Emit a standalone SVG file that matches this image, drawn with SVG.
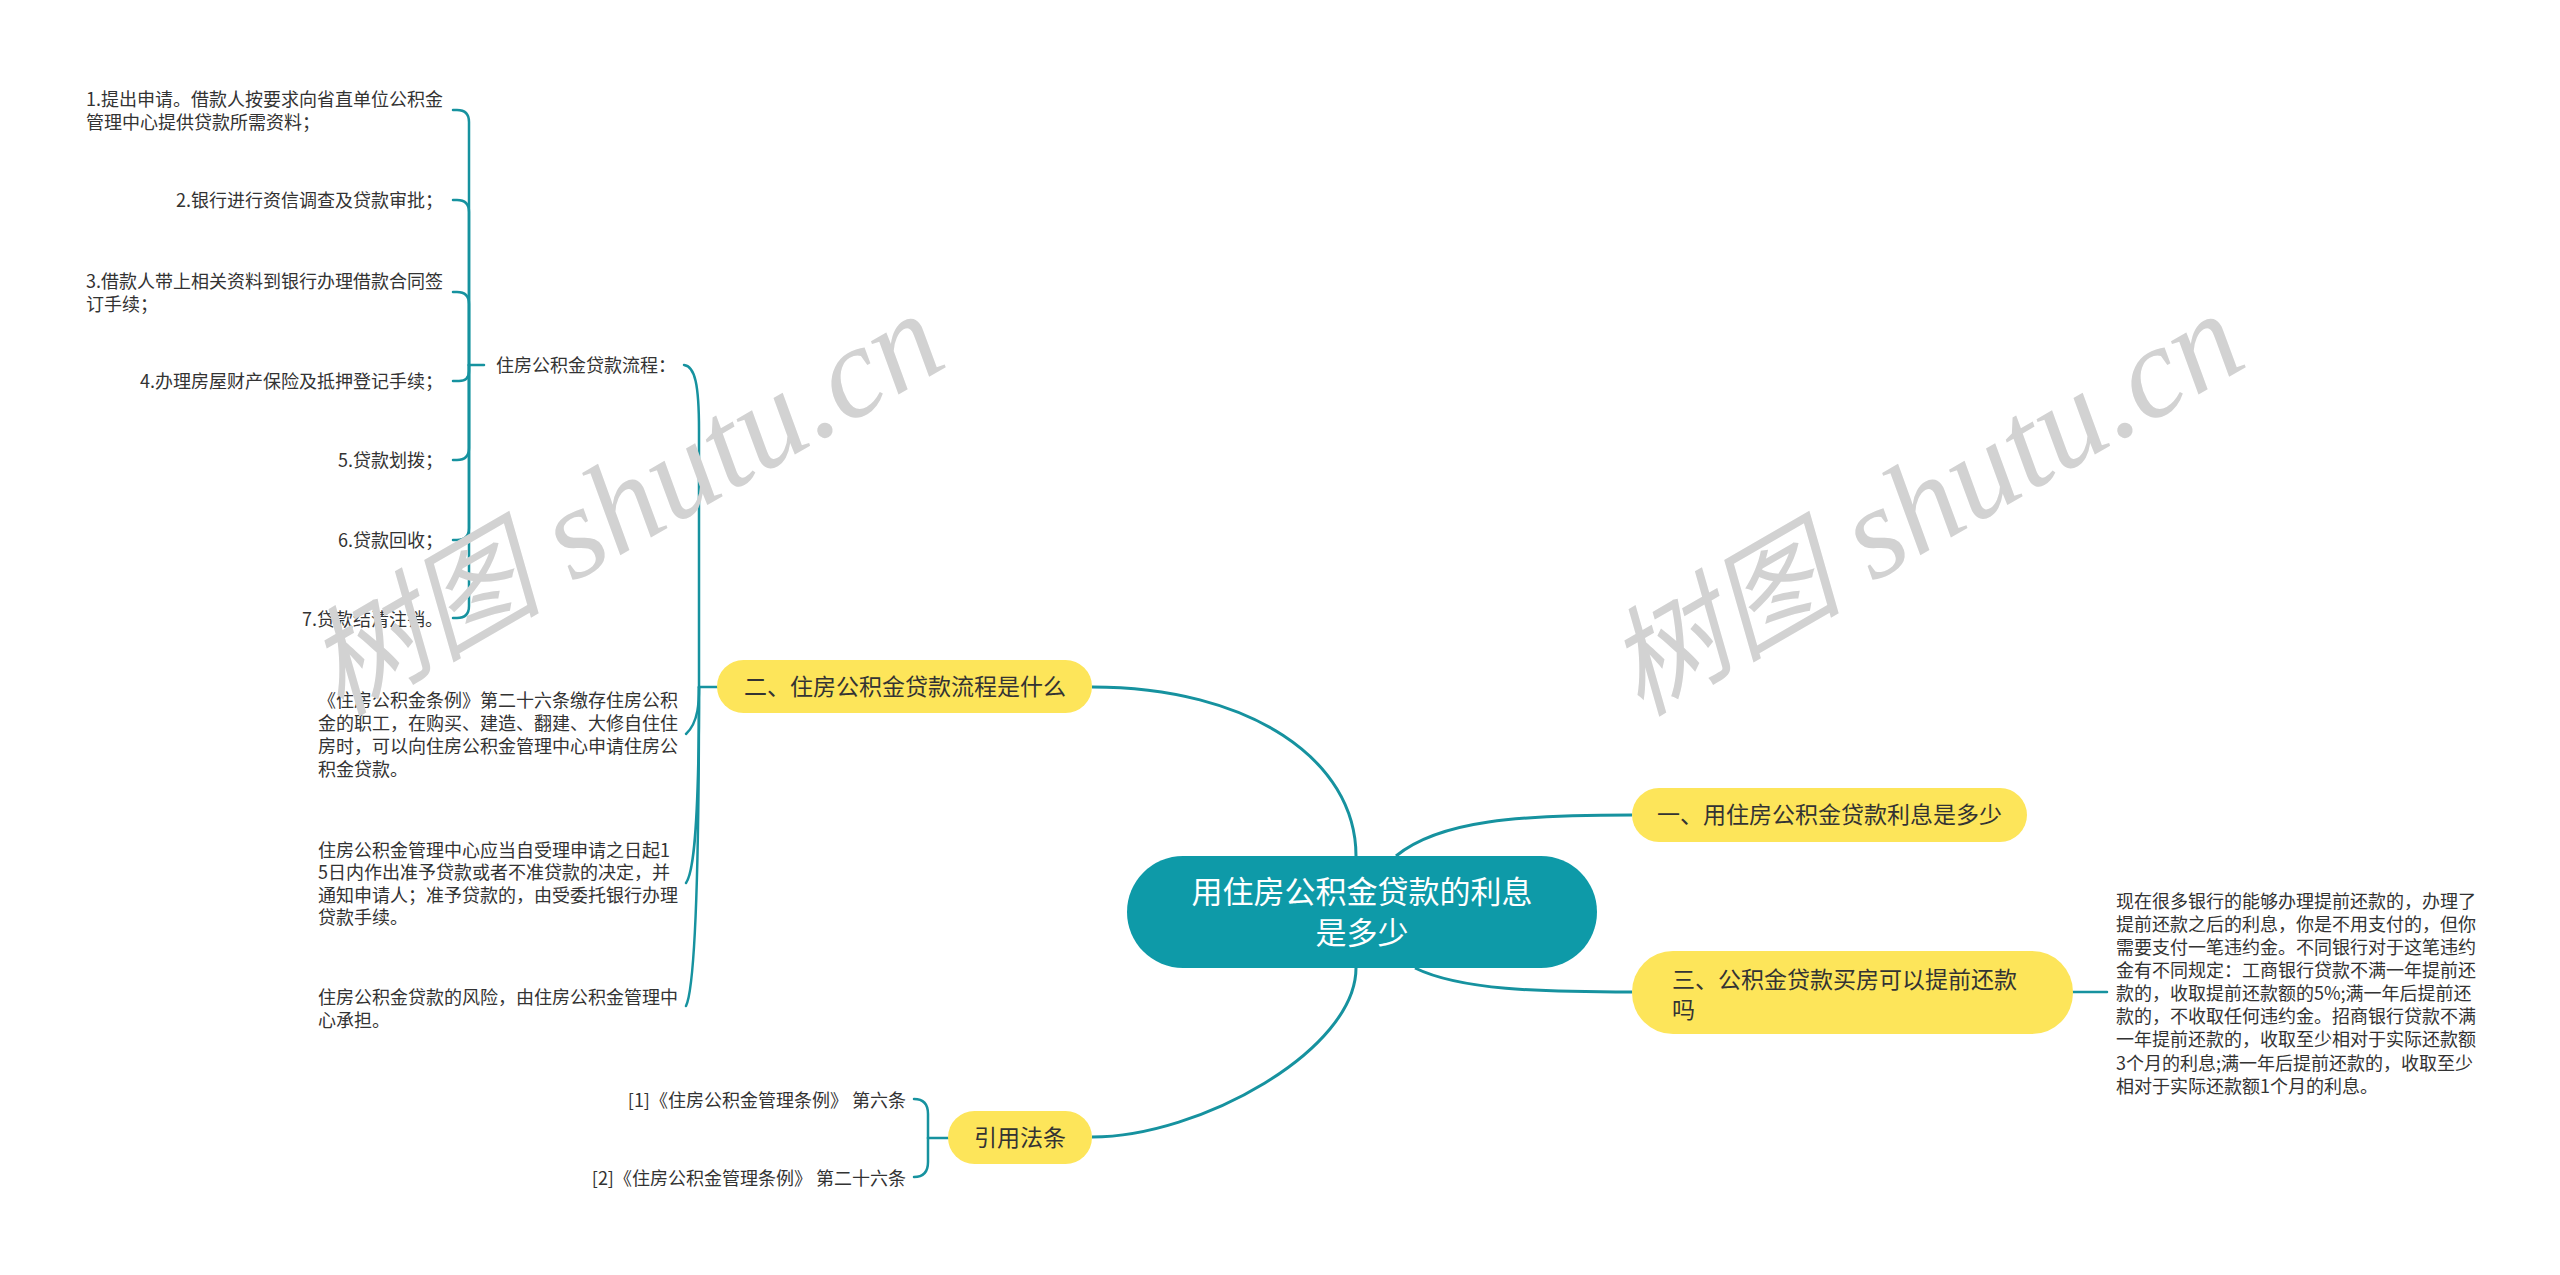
<svg xmlns="http://www.w3.org/2000/svg" width="2560" height="1275" viewBox="0 0 2560 1275">
<style>
.t{font-family:"Noto Sans CJK SC","Liberation Sans",sans-serif;font-size:18px;fill:#333}
.nt{font-family:"Noto Sans CJK SC","Liberation Sans",sans-serif;font-size:23px;fill:#333}
.ct{font-family:"Noto Sans CJK SC","Liberation Sans",sans-serif;font-size:31px;fill:#fff}
.yl{fill:#fde55a}
.c{fill:none;stroke:#16929f;stroke-width:2.5;stroke-linecap:round}
.m{fill:none;stroke:#16929f;stroke-width:3}
.wm{font-family:"Liberation Serif","Noto Sans CJK SC",serif;font-style:italic;font-size:130px;fill:#d2d2d2}
.wc{font-size:118px}
</style>
<rect width="2560" height="1275" fill="#fff"/>
<g id="connectors">
<path class="m" d="M1356,856 C1356,760 1250,687 1092,687"/>
<path class="m" d="M1356,968 C1356,1050 1200,1137 1092,1137"/>
<path class="m" d="M1396,856 C1440,820 1520,815 1632,815"/>
<path class="m" d="M1415,968 C1460,990 1540,992 1632,992"/>
<path class="c" d="M2073,992 L2107,992"/>
<path class="c" d="M718,687 L699,687"/>
<path class="c" d="M699,687 L699,430 C699,385 695,366 684,365"/>
<path class="c" d="M699,687 C699,700 699,722 686,734"/>
<path class="c" d="M699,687 C699,780 697,868 686,883"/>
<path class="c" d="M699,687 C699,860 696,985 686,1006"/>
<path class="c" d="M484,365 L469,365"/>
<path class="c" d="M469,365 L469,122 Q469,110 457,110 L453,110"/>
<path class="c" d="M469,365 L469,212 Q469,200 457,200 L453,200"/>
<path class="c" d="M469,365 L469,304 Q469,292 457,292 L453,292"/>
<path class="c" d="M469,365 L469,371 Q469,381 459,381 L453,381"/>
<path class="c" d="M469,365 L469,448 Q469,460 457,460 L453,460"/>
<path class="c" d="M469,365 L469,528 Q469,540 457,540 L453,540"/>
<path class="c" d="M469,365 L469,606 Q469,618 457,618 L453,618"/>
<path class="c" d="M948,1138 L928,1138"/>
<path class="c" d="M928,1138 L928,1114 Q928,1099 914,1099"/>
<path class="c" d="M928,1138 L928,1162 Q928,1177 914,1177"/>
</g>
<g id="center">
<rect x="1127" y="856" width="470" height="112" rx="56" fill="#0e9aa8"/>
<text class="ct" x="1362" y="903" text-anchor="middle">用住房公积金贷款的利息</text>
<text class="ct" x="1362" y="944" text-anchor="middle">是多少</text>
</g>
<g id="n1">
<rect class="yl" x="1632" y="788" width="395" height="54" rx="27"/>
<text class="nt" x="1657" y="823">一、用住房公积金贷款利息是多少</text>
</g>
<g id="n3">
<rect class="yl" x="1632" y="951" width="441" height="83" rx="41"/>
<text class="nt" x="1672" y="988">三、公积金贷款买房可以提前还款</text>
<text class="nt" x="1672" y="1018">吗</text>
</g>
<g id="n3c">
<text class="t" x="2116" y="908">现在很多银行的能够办理提前还款的，办理了</text>
<text class="t" x="2116" y="931">提前还款之后的利息，你是不用支付的，但你</text>
<text class="t" x="2116" y="954">需要支付一笔违约金。不同银行对于这笔违约</text>
<text class="t" x="2116" y="977">金有不同规定：工商银行贷款不满一年提前还</text>
<text class="t" x="2116" y="1000">款的，收取提前还款额的5%;满一年后提前还</text>
<text class="t" x="2116" y="1023">款的，不收取任何违约金。招商银行贷款不满</text>
<text class="t" x="2116" y="1046">一年提前还款的，收取至少相对于实际还款额</text>
<text class="t" x="2116" y="1070">3个月的利息;满一年后提前还款的，收取至少</text>
<text class="t" x="2116" y="1093">相对于实际还款额1个月的利息。</text>
</g>
<g id="n2">
<rect class="yl" x="717" y="660" width="375" height="53" rx="26.5"/>
<text class="nt" x="744" y="695">二、住房公积金贷款流程是什么</text>
</g>
<g id="n2a">
<text class="t" x="496" y="371.5">住房公积金贷款流程：</text>
</g>
<g id="s1">
<text class="t" x="86" y="105.5">1.提出申请。借款人按要求向省直单位公积金</text>
<text class="t" x="86" y="128.5">管理中心提供贷款所需资料；</text>
</g>
<g id="s2"><text class="t" x="443" y="206.5" text-anchor="end">2.银行进行资信调查及贷款审批；</text></g>
<g id="s3">
<text class="t" x="86" y="287.5">3.借款人带上相关资料到银行办理借款合同签</text>
<text class="t" x="86" y="310.5">订手续；</text>
</g>
<g id="s4"><text class="t" x="443" y="387.5" text-anchor="end">4.办理房屋财产保险及抵押登记手续；</text></g>
<g id="s5"><text class="t" x="443" y="466.5" text-anchor="end">5.贷款划拨；</text></g>
<g id="s6"><text class="t" x="443" y="546.5" text-anchor="end">6.贷款回收；</text></g>
<g id="s7"><text class="t" x="443" y="625.5" text-anchor="end">7.贷款结清注销。</text></g>
<g id="n2b">
<text class="t" x="318" y="706.5">《住房公积金条例》第二十六条缴存住房公积</text>
<text class="t" x="318" y="729.5">金的职工，在购买、建造、翻建、大修自住住</text>
<text class="t" x="318" y="752.5">房时，可以向住房公积金管理中心申请住房公</text>
<text class="t" x="318" y="775.5">积金贷款。</text>
</g>
<g id="n2c">
<text class="t" x="318" y="856.5">住房公积金管理中心应当自受理申请之日起1</text>
<text class="t" x="318" y="879">5日内作出准予贷款或者不准贷款的决定，并</text>
<text class="t" x="318" y="901.5">通知申请人；准予贷款的，由受委托银行办理</text>
<text class="t" x="318" y="924">贷款手续。</text>
</g>
<g id="n2d">
<text class="t" x="318" y="1003.5">住房公积金贷款的风险，由住房公积金管理中</text>
<text class="t" x="318" y="1026.5">心承担。</text>
</g>
<g id="n4">
<rect class="yl" x="948" y="1111" width="144" height="53" rx="26.5"/>
<text class="nt" x="1020" y="1146" text-anchor="middle">引用法条</text>
</g>
<g id="n4a"><text class="t" x="906" y="1106.5" text-anchor="end">[1]《住房公积金管理条例》 第六条</text></g>
<g id="n4b"><text class="t" x="906" y="1184.5" text-anchor="end">[2]《住房公积金管理条例》 第二十六条</text></g>
<g id="watermarks">
<text class="wm" transform="translate(340,717) rotate(-30)"><tspan class="wc">树图</tspan> shutu.cn</text>
<text class="wm" transform="translate(1640,717) rotate(-30)"><tspan class="wc">树图</tspan> shutu.cn</text>
</g>
</svg>
